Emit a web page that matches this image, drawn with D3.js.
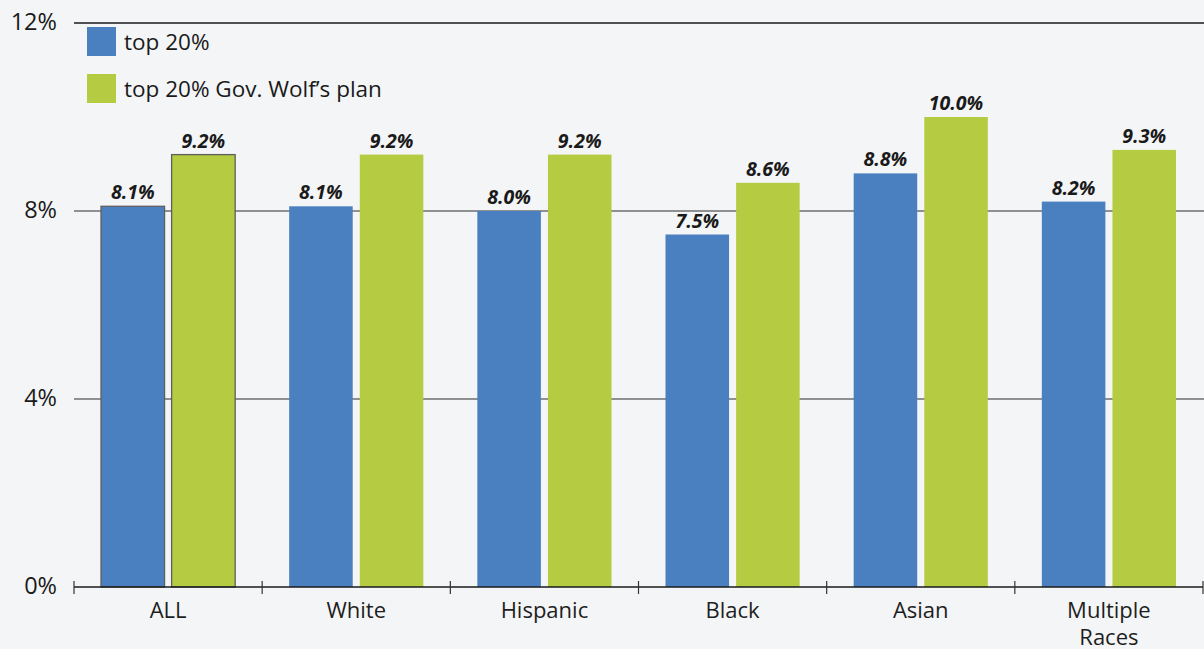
<!DOCTYPE html>
<html><head><meta charset="utf-8">
<script src="https://cdn.jsdelivr.net/npm/d3@7"></script>
<style>
html,body{margin:0;padding:0;background:#f4f5f7;}
svg{display:block;font-family:"Open Sans","Noto Sans",sans-serif;}
</style></head>
<body><svg id="c" width="1204" height="649"></svg>
<script>
const categories = ["ALL","White","Hispanic","Black","Asian","Multiple Races"];
const top20 = [8.1, 8.1, 8.0, 7.5, 8.8, 8.2];
const wolfPlan = [9.2, 9.2, 9.2, 8.6, 10.0, 9.3];
const seriesNames = ["top 20%","top 20% Gov. Wolf\u2019s plan"];
const yTicks = [0, 4, 8, 12];
const colors = ["#4a80bf", "#b5cc42"];

(function(){
const svg = d3.select("#c");
const mLeft = 74, mRight = 1203, mTop = 23, mBottom = 587;
const x = d3.scaleBand().domain(categories).range([mLeft, mRight]).paddingInner(0).paddingOuter(0);
const y = d3.scaleLinear().domain([0, 12]).range([mBottom, mTop]);
const inner = d3.scaleBand().domain([0,1]).range([27, x.bandwidth()-27]).paddingInner(0.1);

svg.append("g").selectAll("line").data(yTicks.filter(d=>d>0)).join("line")
  .attr("x1", mLeft).attr("x2", mRight+1)
  .attr("y1", d=>y(d)).attr("y2", d=>y(d))
  .attr("stroke", d=> d===12 ? "#1a1a1a" : "#6e6e6e").attr("stroke-width", 1.3);

svg.append("g").selectAll("text").data(yTicks).join("text")
  .attr("x", 57).attr("y", d=>y(d)).attr("dy", "0.3em")
  .attr("text-anchor","end").attr("font-size", 23.5).attr("fill","#1a1a1a")
  .text(d=>d+"%");

const series = [top20, wolfPlan];
series.forEach((vals, si)=>{
  const g = svg.append("g");
  g.selectAll("rect").data(vals).join("rect")
    .attr("x", (d,i)=> x(categories[i]) + inner(si))
    .attr("width", inner.bandwidth())
    .attr("y", d=>y(d)).attr("height", d=> mBottom - y(d))
    .attr("fill", colors[si])
    .attr("stroke", (d,i)=> i===0 ? "#5e5e5e" : "none")
    .attr("stroke-width", 1.3);
  g.selectAll("text").data(vals).join("text")
    .attr("x", (d,i)=> x(categories[i]) + inner(si) + inner.bandwidth()/2)
    .attr("y", d=> y(d) - 7)
    .attr("text-anchor","middle").attr("font-size", 19.5).attr("font-weight","bold")
    .attr("font-style","italic").attr("fill","#1a1a1a")
    .text(d=> d.toFixed(1)+"%");
});

svg.append("line").attr("x1", mLeft).attr("x2", mRight).attr("y1", mBottom).attr("y2", mBottom)
  .attr("stroke","#1a1a1a").attr("stroke-width",1.3);
const tickPos = categories.map(c=>x(c)).concat([mRight]);
svg.append("g").selectAll("line").data(tickPos).join("line")
  .attr("x1", d=>d).attr("x2", d=>d).attr("y1", mBottom-6).attr("y2", mBottom+7)
  .attr("stroke","#333").attr("stroke-width",1.2);

const cl = svg.append("g").selectAll("text").data(categories).join("text")
  .attr("x", d=> x(d)+x.bandwidth()/2).attr("y", 618)
  .attr("text-anchor","middle").attr("font-size", 22).attr("fill","#1e1e1e");
cl.each(function(d){
  const words = d === "Multiple Races" ? ["Multiple","Races"] : [d];
  const t = d3.select(this);
  words.forEach((w,i)=> t.append("tspan").attr("x", x(d)+x.bandwidth()/2).attr("dy", i===0?0:27).text(w));
});

const lg = svg.append("g");
seriesNames.forEach((n,i)=>{
  lg.append("rect").attr("x",87).attr("y",27+i*47).attr("width",29).attr("height",29).attr("fill",colors[i]);
  lg.append("text").attr("x",124).attr("y",50+i*47).attr("font-size",22.5).attr("fill","#1a1a1a").text(n);
});
})();
</script></body></html>
